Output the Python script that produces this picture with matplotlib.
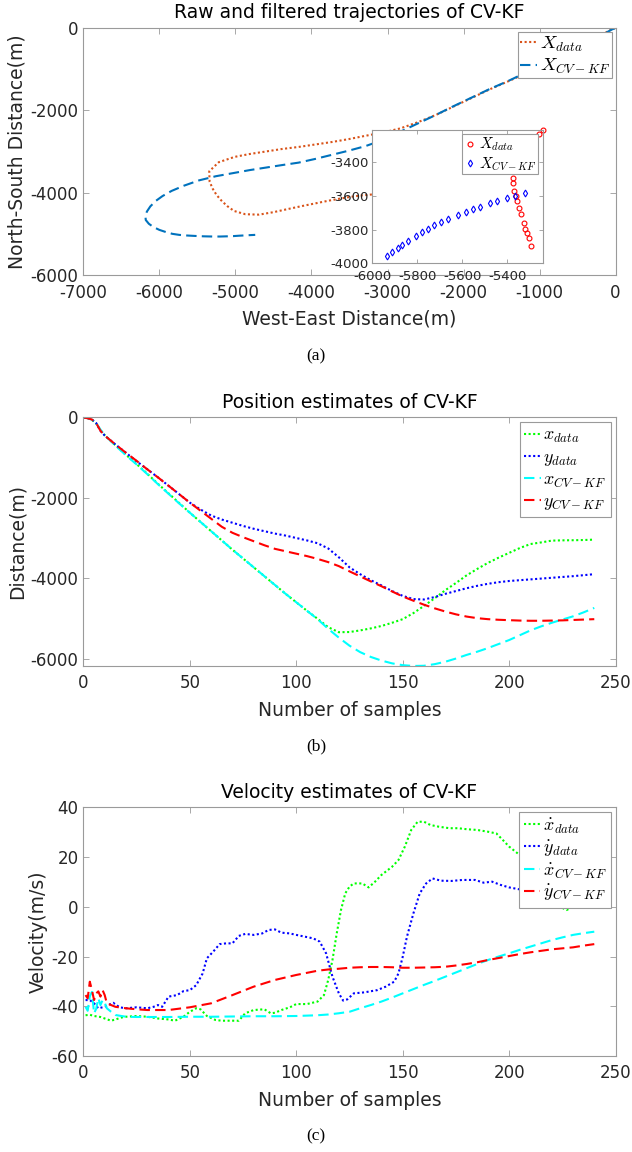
import matplotlib
matplotlib.use('Agg')
import matplotlib.pyplot as plt

plt.rcParams['font.family'] = ['DejaVu Sans']
plt.rcParams['mathtext.fontset'] = 'cm'
plt.rcParams['axes.unicode_minus'] = False

# ---- position data (m) ----
n_pos = [0, 2, 4, 6, 8, 10] + list(range(15, 241, 5))
x_data = [0, -20, -60, -150, -320, -440, -690, -930, -1160, -1400, -1650, -1890, -2130,
          -2370, -2600, -2830, -3060, -3290, -3510, -3730, -3950, -4170, -4390, -4600,
          -4810, -5010, -5220, -5345, -5340, -5300, -5250, -5190, -5110, -5020, -4870,
          -4690, -4500, -4300, -4120, -3930, -3770, -3620, -3490, -3370, -3250, -3150,
          -3110, -3065, -3058, -3055, -3050, -3040]
y_data = [0, -20, -50, -140, -330, -450, -670, -880, -1090, -1290, -1490, -1700, -1910,
          -2120, -2290, -2440, -2540, -2620, -2700, -2770, -2830, -2890, -2940, -3000,
          -3060, -3130, -3260, -3480, -3730, -3900, -4050, -4180, -4320, -4440, -4520,
          -4530, -4470, -4390, -4320, -4250, -4190, -4140, -4100, -4070, -4050, -4030,
          -4010, -3990, -3970, -3950, -3925, -3900]
x_kf = [0, -15, -55, -140, -300, -440, -700, -940, -1170, -1410, -1660, -1900, -2140,
        -2370, -2600, -2830, -3060, -3290, -3510, -3730, -3950, -4170, -4390, -4600,
        -4810, -5020, -5260, -5480, -5680, -5840, -5960, -6050, -6120, -6165, -6185,
        -6180, -6140, -6080, -6000, -5910, -5830, -5740, -5640, -5540, -5420, -5300,
        -5200, -5110, -5030, -4950, -4850, -4740]
y_kf = [0, -20, -50, -140, -330, -450, -670, -880, -1080, -1290, -1490, -1700, -1910,
        -2120, -2320, -2520, -2720, -2870, -2980, -3080, -3180, -3270, -3330, -3390,
        -3450, -3520, -3600, -3700, -3830, -3955, -4080, -4200, -4330, -4455, -4560,
        -4660, -4750, -4830, -4900, -4955, -4995, -5020, -5035, -5045, -5055, -5060,
        -5060, -5055, -5050, -5040, -5030, -5020]

# ---- zoomed-in points shown in the inset ----
ins_x_data = [-5373, -5373, -5369, -5363, -5357, -5349, -5340, -5327, -5320, -5312,
              -5304, -5295, -5260, -5243]
ins_y_data = [-3492, -3522, -3570, -3601, -3632, -3672, -3708, -3763, -3795, -3819,
              -3852, -3896, -3235, -3210]
ins_x_kf = [-5933, -5911, -5887, -5868, -5840, -5807, -5778, -5752, -5726, -5696,
            -5665, -5619, -5584, -5551, -5521, -5477, -5444, -5403, -5364, -5323]
ins_y_kf = [-3955, -3933, -3908, -3890, -3866, -3838, -3814, -3797, -3775, -3757,
            -3737, -3712, -3694, -3678, -3664, -3642, -3631, -3613, -3601, -3583]

# ---- velocity data (m/s) ----
n_vx = [1, 3, 5, 8, 10, 13, 15, 18, 20, 25, 30, 35, 40, 43, 47, 50, 53, 55, 58, 62, 65,
        70, 73, 76, 80, 85, 88, 90, 93, 97, 100, 105, 110, 113, 115, 117, 119, 121, 123,
        125, 127, 131, 134, 137, 140, 145, 148, 151, 154, 157, 160, 163, 167, 172, 176,
        180, 185, 190, 194, 197, 200, 205, 208, 212, 216, 220, 224, 227, 230, 233, 236, 240]
vx_data = [-43.6, -43.4, -43.9, -44.3, -44.9, -45.8, -45.3, -44.5, -44.2, -43.9, -44.2,
           -44.9, -45.3, -45.8, -44.2, -42.2, -40.8, -41.2, -43.9, -45.5, -45.8, -45.8,
           -45.8, -42.8, -41.5, -41.2, -42.8, -42.6, -41.5, -40.4, -39.1, -39.1, -38.1,
           -35.5, -29.4, -21.4, -10.7, -1.3, 5.4, 8.1, 9.4, 9.4, 7.8, 10.1, 12.8, 16.1,
           18.8, 24.2, 30.9, 34.2, 34.2, 32.9, 32.2, 31.6, 31.6, 31.2, 30.9, 30.2, 29.5,
           26.9, 24.2, 20.8, 18.8, 15.0, 10.0, 4.0, 0.0, -1.3, 0.0, 2.0, 3.0, 4.0]
n_vy = [1, 3, 5, 7, 10, 14, 17, 20, 25, 30, 33, 35, 37, 40, 44, 47, 50, 53, 56, 58, 61,
        64, 67, 70, 73, 76, 80, 84, 87, 90, 93, 97, 100, 104, 108, 111, 114, 117, 120,
        122, 124, 127, 132, 138, 142, 146, 148, 150, 152, 155, 158, 161, 164, 168, 173,
        178, 184, 188, 192, 196, 200, 205, 210, 220, 230, 240]
vy_data = [-37.5, -37.5, -38.8, -40.8, -40.2, -38.6, -40.4, -40.8, -40.4, -40.8, -40.2,
           -39.5, -40.2, -36.1, -35.5, -33.9, -33.5, -31.5, -26.8, -20.7, -18.0, -15.0,
           -14.7, -14.7, -11.7, -10.9, -11.3, -10.7, -9.3, -9.1, -10.4, -10.7, -11.3,
           -12.0, -12.7, -14.0, -18.7, -28.1, -34.8, -37.7, -37.2, -34.8, -34.4, -33.5,
           -32.1, -30.1, -26.8, -20.1, -12.0, -2.7, 5.4, 9.4, 11.4, 10.5, 10.4, 10.8,
           10.8, 9.7, 10.1, 8.8, 7.8, 7.0, 6.2, 5.5, 6.0, 7.0]
n_vkf = [1, 2, 3, 4, 5, 6, 7, 8, 9, 10, 11, 13, 15, 20, 25, 30, 40, 50, 60, 70, 80, 90,
         100, 110, 115, 120, 125, 130, 135, 140, 145, 150, 155, 160, 165, 170, 175, 180,
         185, 190, 195, 200, 205, 210, 215, 220, 225, 230, 235, 240]
vx_kf = [-40.2, -41.8, -36.0, -34.2, -42.8, -41.0, -36.8, -39.5, -37.5, -38.5, -40.8,
         -42.2, -43.5, -44.2, -44.3, -44.3, -44.3, -44.2, -44.2, -44.1, -44.0, -44.0,
         -43.9, -43.6, -43.3, -42.8, -42.2, -40.8, -39.5, -38.1, -36.5, -34.8, -33.1,
         -31.4, -29.8, -28.1, -26.4, -24.7, -23.0, -21.4, -20.0, -18.7, -17.3, -16.0,
         -14.7, -13.4, -12.3, -11.3, -10.6, -10.0]
vy_kf = [-35.5, -36.8, -30.1, -33.5, -37.5, -34.8, -34.0, -36.1, -33.5, -35.5, -38.8,
         -39.5, -40.2, -40.8, -41.2, -41.5, -41.5, -40.4, -38.8, -35.5, -32.1, -29.4,
         -27.4, -25.7, -25.2, -24.9, -24.5, -24.3, -24.2, -24.2, -24.3, -24.5, -24.5,
         -24.4, -24.3, -24.1, -23.6, -23.0, -22.3, -21.4, -20.6, -19.8, -19.0, -18.3,
         -17.7, -17.1, -16.7, -16.3, -15.6, -15.0]

BOX = '#9a9a9a'
TXT = '#262626'
DASH = (5, 2.5)
DOT = (1, 1.2)


def style(ax, fs=12, pad_x=6, pad_y=3.5):
    for s in ax.spines.values():
        s.set_color(BOX)
        s.set_linewidth(0.8)
    ax.tick_params(direction='in', top=True, right=True, length=4, width=0.6,
                   color=BOX, labelcolor=TXT, labelsize=fs)
    ax.tick_params(axis='x', pad=pad_x)
    ax.tick_params(axis='y', pad=pad_y)


def legend(ax, x, y, fs, spacing, bpad=0.25):
    lg = ax.legend(loc='upper right', bbox_to_anchor=(x, y), borderaxespad=0,
                   fontsize=fs, handlelength=0.9, handletextpad=0.15,
                   labelspacing=spacing, borderpad=bpad, fancybox=False,
                   framealpha=1, edgecolor=BOX)
    lg.get_frame().set_linewidth(0.8)
    return lg


fig = plt.figure(figsize=(6.32, 11.52), dpi=100)

# (a) trajectories
ax1 = fig.add_axes([0.132, 0.761, 0.842, 0.215])
ax1.plot(x_data, y_data, linestyle=(0, DOT), color='#D95319', lw=1.5, label='$X_{data}$')
ax1.plot(x_kf, y_kf, linestyle=(0, DASH), color='#0072BD', lw=1.5, label='$X_{CV-KF}$')
ax1.set_xlim(-7000, 0)
ax1.set_ylim(-6000, 0)
ax1.set_xticks(range(-7000, 1, 1000))
ax1.set_yticks(range(-6000, 1, 2000))
style(ax1)
ax1.set_title('Raw and filtered trajectories of CV-KF', fontsize=13.5, pad=7, color='k')
ax1.set_xlabel('West-East Distance(m)', fontsize=13.5, labelpad=6, color=TXT)
ax1.set_ylabel('North-South Distance(m)', fontsize=13.5, labelpad=3, color=TXT)
legend(ax1, 0.9934, 0.9826, 13.5, 0.12, bpad=0.1)

axin = fig.add_axes([0.589, 0.7714, 0.2706, 0.1157])
axin.plot(ins_x_data, ins_y_data, 'o', mfc='none', mec='r', ms=3.5, mew=0.8,
          clip_on=False, label='$X_{data}$')
axin.plot(ins_x_kf, ins_y_kf, 'd', mfc='none', mec='b', ms=3.5, mew=0.8,
          clip_on=False, label='$X_{CV-KF}$')
axin.set_xlim(-6000, -5240)
axin.set_ylim(-4000, -3210)
axin.set_xticks(range(-6000, -5399, 200))
axin.set_yticks(range(-4000, -3399, 200))
style(axin, fs=9.5, pad_x=4.5, pad_y=2.5)
axin.tick_params(length=3)
lgi = legend(axin, 0.971, 0.968, 11, 0.12, bpad=0.1)
for h in lgi.legend_handles:
    h.set_markersize(3.5)

# (b) position estimates
ax2 = fig.add_axes([0.132, 0.4219, 0.842, 0.2157])
ax2.plot(n_pos, x_data, linestyle=(0, DOT), color='#00ff00', lw=1.5, label='$x_{data}$')
ax2.plot(n_pos, y_data, linestyle=(0, DOT), color='#0000ff', lw=1.5, label='$y_{data}$')
ax2.plot(n_pos, x_kf, linestyle=(0, DASH), color='#00ffff', lw=1.5, label='$x_{CV-KF}$')
ax2.plot(n_pos, y_kf, linestyle=(0, DASH), color='#ff0000', lw=1.5, label='$y_{CV-KF}$')
ax2.set_xlim(0, 250)
ax2.set_ylim(min(x_data + y_data + x_kf + y_kf), 0)
ax2.set_xticks(range(0, 251, 50))
ax2.set_yticks(range(-6000, 1, 2000))
style(ax2)
ax2.set_title('Position estimates of CV-KF', fontsize=13.5, pad=7, color='k')
ax2.set_xlabel('Number of samples', fontsize=13.5, labelpad=6, color=TXT)
ax2.set_ylabel('Distance(m)', fontsize=13.5, labelpad=3, color=TXT)
legend(ax2, 0.9915, 0.983, 13, 0.15)

# (c) velocity estimates
ax3 = fig.add_axes([0.132, 0.0833, 0.842, 0.2159])
ax3.plot(n_vx, vx_data, linestyle=(0, DOT), color='#00ff00', lw=1.5, label=r'$\dot{x}_{data}$')
ax3.plot(n_vy, vy_data, linestyle=(0, DOT), color='#0000ff', lw=1.5, label=r'$\dot{y}_{data}$')
ax3.plot(n_vkf, vx_kf, linestyle=(0, DASH), color='#00ffff', lw=1.5, label=r'$\dot{x}_{CV-KF}$')
ax3.plot(n_vkf, vy_kf, linestyle=(0, DASH), color='#ff0000', lw=1.5, label=r'$\dot{y}_{CV-KF}$')
ax3.set_xlim(0, 250)
ax3.set_ylim(-60, 40)
ax3.set_xticks(range(0, 251, 50))
ax3.set_yticks(range(-60, 41, 20))
style(ax3)
ax3.set_title('Velocity estimates of CV-KF', fontsize=13.5, pad=7, color='k')
ax3.set_xlabel('Number of samples', fontsize=13.5, labelpad=6, color=TXT)
ax3.set_ylabel('Velocity(m/s)', fontsize=13.5, labelpad=3, color=TXT)
legend(ax3, 0.9915, 0.982, 13, 0.15)

for label, y in [('(a)', 356), ('(b)', 746), ('(c)', 1136)]:
    fig.text(0.5, 1 - y / 1152, label, ha='center', va='center',
             family='Liberation Serif', fontsize=12.5)

fig.savefig('out.png', dpi=100)
